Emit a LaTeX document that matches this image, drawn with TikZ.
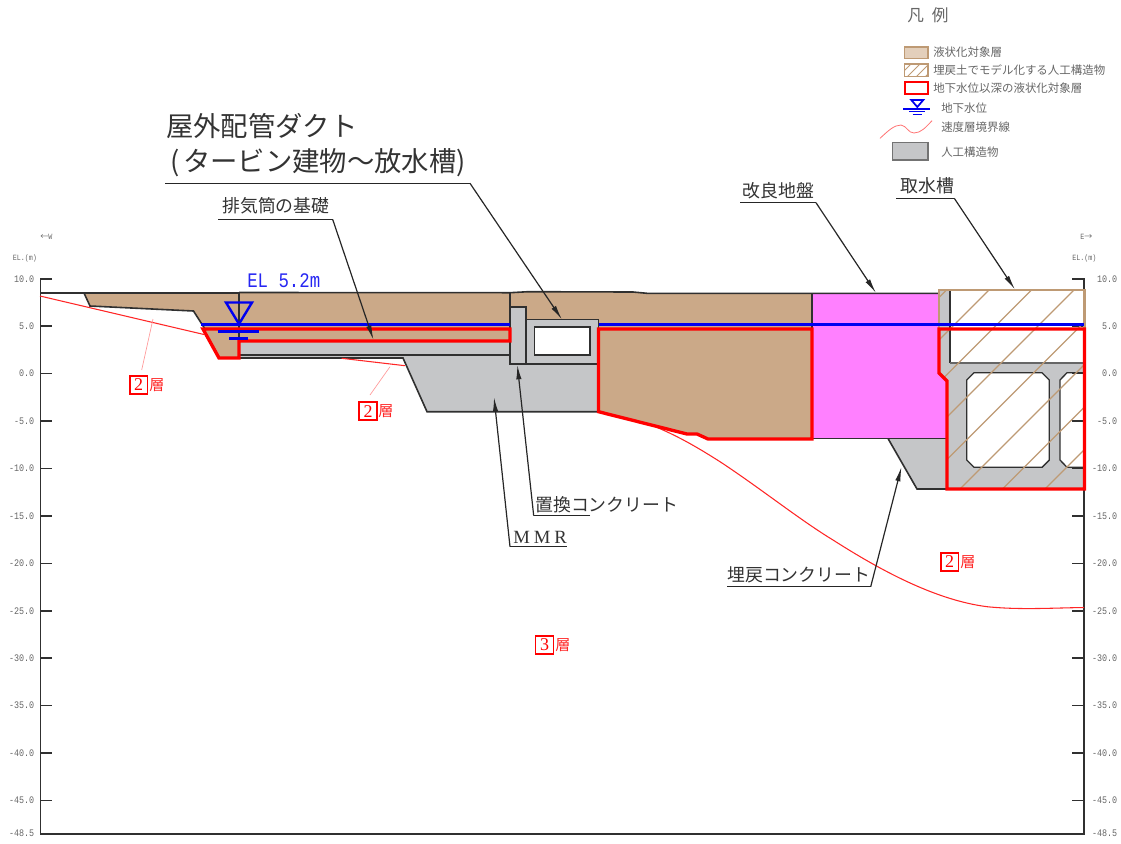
\documentclass[tikz,border=0pt]{standalone}
\usepackage{fontspec}
\setmainfont{Liberation Serif}
\newfontfamily\cjk{Noto Sans CJK JP}
\newfontfamily\numf[FakeStretch=0.84]{Liberation Mono}
\usetikzlibrary{arrows.meta}
\definecolor{soil}{HTML}{CBA988}
\definecolor{soillight}{HTML}{E3CFBB}
\definecolor{conc}{HTML}{C5C6C8}
\definecolor{magen}{HTML}{FF80FF}
\definecolor{hatchc}{HTML}{BE9A74}
\definecolor{dk}{HTML}{303030}
\definecolor{txt}{HTML}{666666}
\definecolor{bl}{HTML}{0000F0}
\definecolor{rd}{HTML}{FF0000}
\tikzset{
  x=0.75pt,y=-0.75pt,
  outl/.style={draw=dk,line width=1.2pt,line join=miter},
  rline/.style={draw=rd,line width=2.5pt,line join=miter},
  wl/.style={draw=bl,line width=2.2pt},
  sym/.style={draw=bl,line width=1.8pt},
  vel/.style={draw=rd!85,line width=0.8pt},
  lead/.style={draw=rd!40,line width=0.5pt},
  call/.style={draw=black!85,line width=1pt},
  callarr/.style={draw=black!85,line width=0.9pt,-{Latex[length=11pt,width=4pt]}},
  axis/.style={draw=dk,line width=1.2pt},
  lab/.style={inner sep=0pt,anchor=west,font=\cjk,text=black!80},
  big/.style={lab,font=\cjk\fontsize{20.5}{22}\selectfont},
  mid/.style={lab,font=\cjk\fontsize{13.4}{15}\selectfont},
  leg/.style={inner sep=0pt,anchor=west,text=txt,font=\cjk\fontsize{8.6}{10}\selectfont},
  num/.style={inner sep=0pt,text=txt,font=\numf\fontsize{7.5}{9}\selectfont},
  tiny/.style={inner sep=0pt,text=txt,font=\numf\fontsize{6}{7}\selectfont},
  laybox/.style={draw=rd,line width=1.2pt,inner sep=0pt,minimum size=13.4pt,text=rd,font=\fontsize{13.5}{14}\selectfont},
  laytxt/.style={inner sep=0pt,anchor=west,text=rd!85,font=\cjk\fontsize{11.3}{12}\selectfont},
}
\begin{document}
\begin{tikzpicture}
\useasboundingbox (0,0) rectangle (1121,843);
% soil fills
\fill[soil] (84,293) -- (90,306) -- (193.5,311) -- (205,329) -- (219,358) -- (239,358) -- (239,341) -- (510,341) -- (510,292.7) -- (239,292.5) -- cycle;
\fill[soil] (510,292.7) -- (528,291.7) -- (633,292) -- (647,293.3) -- (812,293.3) -- (812,439) -- (708,439) -- (697,434) -- (687,434) -- (598.5,411.7) -- (598.5,319) -- (526,319) -- (526,306.7) -- (510,306.7) -- cycle;
% concrete
\fill[conc] (239,341) -- (510,341) -- (510,306.7) -- (526,306.7) -- (526,319.5) -- (598.5,319.5) -- (598.5,411.7) -- (427,411.7) -- (403,358) -- (239,358) -- cycle;
\fill[white] (534.5,327) rectangle (590,355);
% magenta
\fill[magen] (812,293.3) -- (939,293.3) -- (939,373) -- (947,381) -- (947,438.5) -- (812,438.5) -- cycle;
% right structure
\fill[conc] (888,438.5) -- (947,438.5) -- (947,381) -- (939,373) -- (939,290) -- (950,290) -- (950,363) -- (1084,363) -- (1084,489) -- (917,489) -- cycle;
\path[fill=white,draw=dk,line width=1pt] (974,372.7) -- (1042,372.7) -- (1049.3,380) -- (1049.3,460) -- (1042,467.3) -- (974,467.3) -- (966.7,460) -- (966.7,380) -- cycle;
\path[fill=white] (1084,372.7) -- (1067,372.7) -- (1060,380) -- (1060,460) -- (1067,467.3) -- (1084,467.3) -- cycle;
\draw[outl,line width=1pt] (1084,372.7) -- (1067,372.7) -- (1060,380) -- (1060,460) -- (1067,467.3) -- (1084,467.3);
% outlines
\draw[outl] (40,293) -- (239,293) (239,292.5) -- (510,292.7) -- (528,291.7) -- (633,292) -- (647,293.3) -- (939,293.3);
\draw[outl] (84,293) -- (90,306) -- (193.5,311) -- (205,329);
\draw[outl] (239,293) -- (239,358);
\draw[outl] (239,355) -- (510,355);
\draw[outl] (510,293) -- (510,364) -- (598.5,364);
\draw[outl] (510,306.7) -- (526,306.7) -- (526,364);
\draw[outl] (526,319.5) -- (598.5,319.5) -- (598.5,329);
\draw[outl] (534.5,327) rectangle (590,355);
\draw[outl] (239,358) -- (403,358) -- (427,411.7) -- (598.5,411.7);
\draw[outl] (812,293.3) -- (812,438.5) -- (947,438.5);
\draw[outl] (888,438.5) -- (917,489) -- (1084,489);
\draw[outl] (950,290) -- (950,363);
\draw[outl,draw=black!60] (950,363) -- (1084,363);
\draw[outl] (939,293) -- (939,373);
% axes
\draw[axis] (52,278.7) -- (40.5,278.7) -- (40.5,834) -- (1084,834) -- (1084,278.7) -- (1072,278.7);
\foreach \v in {5,0,-5,-10,-15,-20,-25,-30,-35,-40,-45}{
  \draw[axis] (40.5,{373.6-\v*9.485}) -- (52,{373.6-\v*9.485});
  \draw[axis] (1072,{373.6-\v*9.485}) -- (1084,{373.6-\v*9.485});
}
\foreach \v/\t in {10/10.0,5/5.0,0/0.0,-5/-5.0,-10/-10.0,-15/-15.0,-20/-20.0,-25/-25.0,-30/-30.0,-35/-35.0,-40/-40.0,-45/-45.0,-48.5/-48.5}{
  \node[num,anchor=east] at (34.5,{373.6-\v*9.485}) {\t};
  \node[num,anchor=east] at (1117.5,{373.6-\v*9.485}) {\t};
}
\node[tiny,anchor=west] (elL) at (12.5,258) {EL.(m)};
\node[tiny,anchor=west] (elR) at (1072,258) {EL.(m)};
\node[tiny,anchor=west] (wm) at (40,237) {{\cjk\fontsize{6}{7}\selectfont ←}W};
\node[tiny,anchor=west] (em) at (1080,237) {E{\cjk\fontsize{6}{7}\selectfont →}};
% hatch
\begin{scope}
\clip (939,290) -- (1084,290) -- (1084,489) -- (947,489) -- (947,381) -- (939,373) -- cycle;
\foreach \s in {1236.5,1279,1321.5,1364,1406.5,1449,1491.5,1534,1576.5}
  \draw[hatchc,line width=1pt] ({\s-280},280) -- ({\s-500},500);
\end{scope}
\draw[hatchc,line width=1.7pt] (939,329) -- (939,290) -- (1084.5,290) -- (1084.5,329);
% velocity boundaries
\coordinate (v1a) at (40,296); \coordinate (v1b) at (204,334.5);
\draw[vel] (v1a) -- (v1b);
\coordinate (v2a) at (341.7,358.3); \coordinate (v2b) at (405,365.7);
\draw[vel] (v2a) -- (v2b);
\coordinate (v3a) at (656,427); \coordinate (v3m) at (720,461.7); \coordinate (v3n) at (833,540); \coordinate (v3o) at (987,606.7); \coordinate (v3b) at (1084,607.5);
\draw[vel] (v3a) .. controls (680,437) and (700,449) .. (v3m)
  .. controls (760,488) and (800,520) .. (v3n)
  .. controls (880,570) and (935,600) .. (v3o)
  .. controls (1020,610) and (1050,608) .. (v3b);
\node[laybox] (la) at (138.7,385) {2}; \node[laytxt] (lat) at (149,385) {層};
\node[laybox] (lb) at (368.2,411.2) {2}; \node[laytxt] (lbt) at (378,411.2) {層};
\node[laybox] (lc) at (949.7,562) {2}; \node[laytxt] (lct) at (960,562) {層};
\node[laybox] (ld) at (544.5,645) {3}; \node[laytxt] (ldt) at (555,645) {層};
\coordinate (lea) at (153,319); \coordinate (lea2) at (141.7,370);
\coordinate (leb) at (390,366.7); \coordinate (leb2) at (370,395);
\draw[lead] (lea) -- (lea2);
\draw[lead] (leb) -- (leb2);
% water line
\draw[wl] (200.5,324.3) -- (510,324.3);
\draw[wl] (598.5,324.3) -- (1084,324.3);
\draw[rline] (203,329) -- (219,358) -- (239,358) -- (239,341) -- (510,341) -- (510,329) -- cycle;
\draw[rline] (598.5,329) -- (812,329) -- (812,439) -- (708,439) -- (697,434) -- (687,434) -- (598.5,411.7) -- cycle;
\draw[rline] (939,329) -- (1084.5,329) -- (1084.5,489) -- (947,489) -- (947,381) -- (939,373) -- cycle;
\draw[sym] (226,302.5) -- (252,302.5) -- (239,324) -- cycle;
\draw[sym] (218,331.5) -- (259,331.5);
\draw[sym] (229,338.5) -- (248,338.5);
\node[inner sep=0pt,anchor=west,text=bl!85,font=\numf\fontsize{15.5}{17}\selectfont] (el) at (247,281) {EL 5.2m};
% callouts
\node[big] (t1) at (166,126) {屋外配管ダクト};
\node[big] (t2) at (170,163) {(\hspace{2.8pt}タービン建物\char"301C放水槽)};
\coordinate (u1a) at (165,183.3); \coordinate (u1b) at (470,183.3); \coordinate (p1) at (562,319.5);
\draw[call] (u1a) -- (u1b); \draw[callarr] (u1b) -- (p1);
\node[mid] (t3) at (222,206) {排気筒の基礎};
\coordinate (u3a) at (218.3,219.5); \coordinate (u3b) at (332.7,219.5); \coordinate (p3) at (373.5,340);
\draw[call] (u3a) -- (u3b); \draw[callarr] (u3b) -- (p3);
\node[mid] (t4) at (742.7,190.5) {改良地盤};
\coordinate (u4a) at (740,202.7); \coordinate (u4b) at (816,202.7); \coordinate (p4) at (876,293);
\draw[call] (u4a) -- (u4b); \draw[callarr] (u4b) -- (p4);
\node[mid] (t5) at (900,186) {取水槽};
\coordinate (u5a) at (896,198.3); \coordinate (u5b) at (954.3,198.3); \coordinate (p5) at (1015,289.5);
\draw[call] (u5a) -- (u5b); \draw[callarr] (u5b) -- (p5);
\node[mid] (t6) at (535,505) {置換コンクリート};
\coordinate (u6a) at (590,515.7); \coordinate (u6b) at (533.7,515.7); \coordinate (p6) at (517.3,364.7);
\draw[call] (u6a) -- (u6b); \draw[callarr] (u6b) -- (p6);
\node[mid,font=\fontsize{14}{15}\selectfont] (t7) at (513,537) {M\hspace{3pt}M\hspace{3pt}R};
\coordinate (u7a) at (566.7,546.7); \coordinate (u7b) at (510,546.7); \coordinate (p7) at (494,397);
\draw[call] (u7a) -- (u7b); \draw[callarr] (u7b) -- (p7);
\node[mid] (t8) at (727,575) {埋戻コンクリート};
\coordinate (u8a) at (727.3,586.7); \coordinate (u8b) at (870.7,586.7); \coordinate (p8) at (901.5,466.7);
\draw[call] (u8a) -- (u8b); \draw[callarr] (u8b) -- (p8);
% legend
\node[inner sep=0pt,anchor=west,text=txt,font=\cjk\fontsize{12.5}{14}\selectfont] (lt) at (907,15) {凡\hspace{6pt}例};
\draw[draw=hatchc,fill=soillight,line width=0.9pt] (904.7,47) rectangle (928,58.7);
\begin{scope}
\clip (904.7,64) rectangle (928,76.7);
\foreach \s in {975,984,993,1002}
  \draw[hatchc,line width=0.7pt] ({\s-60},60) -- ({\s-80},80);
\end{scope}
\draw[draw=hatchc,line width=1.1pt] (904.7,64) rectangle (928,76.7);
\draw[draw=rd,line width=1.7pt] (904.7,82) rectangle (928,94);
\node[leg] (l1) at (933,52.5) {液状化対象層};
\node[leg] (l2) at (933,70) {埋戻土でモデル化する人工構造物};
\node[leg] (l3) at (933,88) {地下水位以深の液状化対象層};
\draw[sym,line width=1.3pt] (911.3,100) -- (923.3,100) -- (917.3,107) -- cycle;
\draw[sym,line width=1.3pt] (903,108.7) -- (930,108.7);
\draw[sym,line width=1pt] (909,111.7) -- (925,111.7);
\draw[sym,line width=1pt] (912.7,114.7) -- (921.7,114.7);
\node[leg] (l4) at (941,108) {地下水位};
\draw[draw=rd!55,line width=0.6pt] (880,138.3) .. controls (888,131) and (894,125) .. (901,125) .. controls (907,126) and (908,133) .. (914,133) .. controls (921,133) and (926,127) .. (932,120.7);
\node[leg] (l5) at (941,127) {速度層境界線};
\draw[draw=black!55,fill=conc,line width=0.8pt] (892.7,142.7) rectangle (928,160);
\node[leg] (l6) at (941,152) {人工構造物};
\end{tikzpicture}
\end{document}
